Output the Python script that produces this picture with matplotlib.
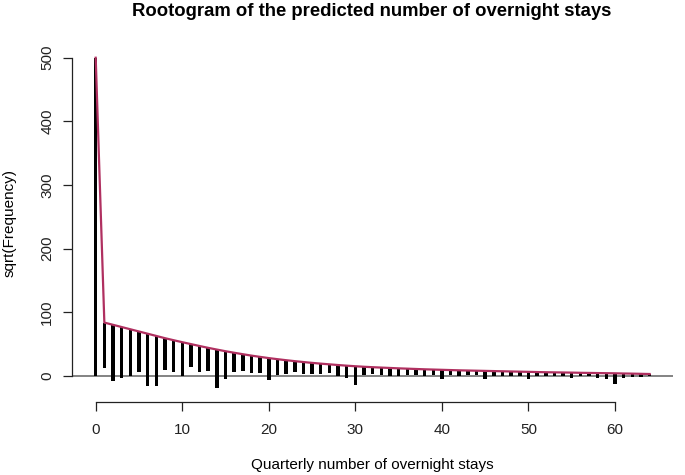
import matplotlib
matplotlib.use("Agg")
import matplotlib.pyplot as plt
import numpy as np

plt.rcParams['font.family'] = ['Liberation Sans', 'DejaVu Sans']

# Count values (quarterly number of overnight stays)
counts = list(range(0, 65))

# Expected sqrt(frequency) (fitted curve)
fitted = [500, 84, 80.5, 77, 73.5, 70, 66.5, 63, 59.5, 56.3,
          53.2, 50.2, 47.2, 44.3, 41.6, 39.0, 36.6, 34.3, 32.1, 30.1,
          28.2, 26.5, 24.9, 23.4, 22.0, 20.7, 19.5, 18.4, 17.3, 16.3,
          15.4, 14.6, 13.9, 13.3, 12.7, 12.1, 11.6, 11.1, 10.6, 10.2,
          9.8, 9.4, 9.0, 8.7, 8.4, 8.1, 7.8, 7.5, 7.2, 6.9,
          6.6, 6.3, 6.0, 5.8, 5.6, 5.4, 5.1, 4.9, 4.7, 4.5,
          4.3, 4.0, 3.8, 3.5, 3.2]

# Observed sqrt(frequency)
observed = [500, 72, 88.5, 80.7, 73.5, 63.2, 82.2, 78.7, 50.1, 50.0,
            53.2, 36.7, 40.2, 36.3, 61.1, 44.2, 29.8, 27.1, 26.6, 25.9,
            34.5, 24.9, 20.9, 17.6, 18.3, 17.5, 15.8, 13.1, 17.3, 19.5,
            30.2, 13.0, 11.3, 11.7, 12.2, 11.6, 10.0, 10.1, 10.1, 9.2,
            15.1, 7.4, 8.5, 7.7, 7.4, 13.4, 7.3, 7, 6.7, 6.4,
            11.9, 6.3, 6, 5.3, 5.1, 8, 4.6, 4.9, 7.9, 9.8,
            17, 6.6, 5.9, 5.6, 3.2]

x_ticks = [0, 10, 20, 30, 40, 50, 60]
y_ticks = [0, 100, 200, 300, 400, 500]

title = "Rootogram of the predicted number of overnight stays"
xlabel = "Quarterly number of overnight stays"
ylabel = "sqrt(Frequency)"

fitted_a = np.array(fitted)
observed_a = np.array(observed)
bottoms = fitted_a - observed_a

fig = plt.figure(figsize=(6.85, 4.75), dpi=100)
ax = fig.add_axes([0.1047, 0.1543, 0.8778, 0.752])

ax.axhline(0, color='#6e6e6e', lw=1.2, zorder=1)
ax.bar(counts, observed_a, bottom=bottoms, width=0.4, color='black', zorder=2)
ax.plot(counts, fitted_a, color='#B03060', lw=1.6, zorder=3)

ax.set_xlim(-2.77, 66.7)
ax.set_ylim(-40.3, 520.8)

for s in ['top', 'right']:
    ax.spines[s].set_visible(False)
ax.spines['bottom'].set_bounds(0, 60)
ax.spines['left'].set_bounds(0, 500)
for s in ['bottom', 'left']:
    ax.spines[s].set_linewidth(0.9)
    ax.spines[s].set_color('#222222')

ax.set_xticks(x_ticks)
ax.set_yticks(y_ticks)
ax.tick_params(axis='both', direction='out', length=6.5, width=0.9,
               labelsize=11, colors='#222222')
ax.tick_params(axis='x', pad=9)
ax.tick_params(axis='y', pad=6)
for lab in ax.get_yticklabels():
    lab.set_rotation(90)
    lab.set_va('center')

fig.text(372 / 685, 1 - 12 / 475, title, ha='center', va='center',
         fontsize=13.3, fontweight='bold')
fig.text(372 / 685, 1 - 465 / 475, xlabel, ha='center', va='center', fontsize=11)
fig.text(10 / 685, 1 - 223 / 475, ylabel, ha='center', va='center',
         fontsize=11, rotation=90)

fig.savefig('out.png', dpi=100)
